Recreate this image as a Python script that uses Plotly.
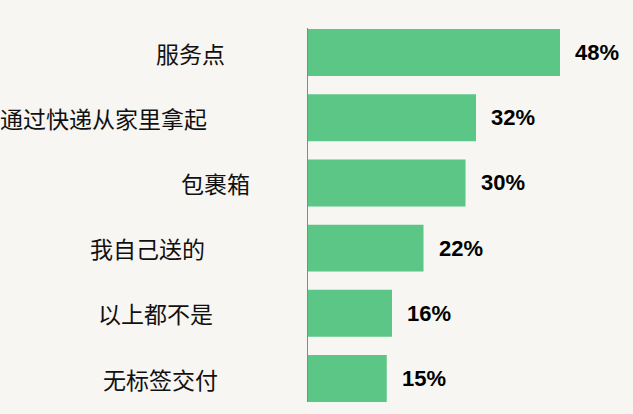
import plotly.graph_objects as go

# 数据
categories = ["服务点", "通过快递从家里拿起", "包裹箱", "我自己送的", "以上都不是", "无标签交付"]
values = [48, 32, 30, 22, 16, 15]

# 标签右端相对坐标轴的偏移（像素）
label_shift = [-81, -99, -56, -101, -93, -88]

BG = "#f7f6f2"
GREEN = "#5cc686"

fig = go.Figure()
fig.add_trace(go.Bar(
    x=values, y=categories, orientation="h",
    marker=dict(color=GREEN, line=dict(width=0)),
    hoverinfo="skip",
))

annotations = []
for cat, v, s in zip(categories, values, label_shift):
    annotations.append(dict(
        x=0, y=cat, xref="x", yref="y", text=cat, showarrow=False,
        xanchor="right", xshift=s,
        font=dict(family="Noto Sans CJK SC", size=23, color="#111111"),
    ))
    annotations.append(dict(
        x=v, y=cat, xref="x", yref="y", text=f"<b>{v}%</b>", showarrow=False,
        xanchor="left", xshift=13,
        font=dict(family="Liberation Sans, Arial", size=22, color="#000000"),
    ))

fig.update_layout(
    width=633, height=414,
    margin=dict(l=308, r=10, t=28, b=12),
    paper_bgcolor=BG, plot_bgcolor=BG,
    bargap=0.28,
    showlegend=False,
    annotations=annotations,
    xaxis=dict(range=[0, 60], visible=False),
    yaxis=dict(
        range=[5.36, -0.376], showticklabels=False, ticks="",
        showgrid=False, zeroline=False,
        showline=True, linecolor="#888888", linewidth=1,
    ),
)

# 去掉页面默认边距
fig.write_html(
    "out.html",
    config={"displayModeBar": False},
    post_script="document.body.style.margin='0';document.body.style.background='%s';" % BG,
)
